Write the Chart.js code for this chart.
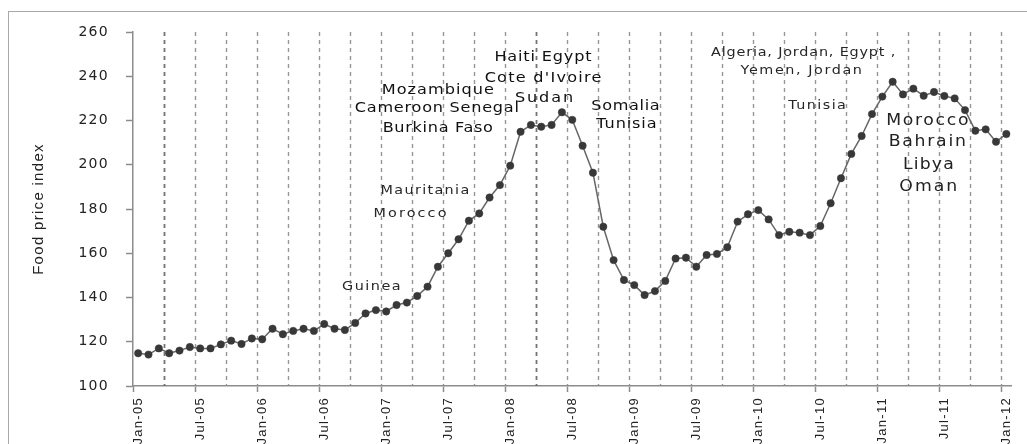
<!DOCTYPE html>
<html><head><meta charset="utf-8">
<script src="https://cdn.jsdelivr.net/npm/chart.js@4.4.0/dist/chart.umd.min.js"></script>
<style>html,body{margin:0;padding:0;background:#fff;overflow:hidden}#wrap{position:relative;width:1027px;height:444px}</style>
</head><body><div id="wrap"><canvas id="c" width="1027" height="444"></canvas></div>
<script>
const categories = [
 'Jan-05','Feb-05','Mar-05','Apr-05','May-05','Jun-05','Jul-05','Aug-05','Sep-05','Oct-05','Nov-05','Dec-05',
 'Jan-06','Feb-06','Mar-06','Apr-06','May-06','Jun-06','Jul-06','Aug-06','Sep-06','Oct-06','Nov-06','Dec-06',
 'Jan-07','Feb-07','Mar-07','Apr-07','May-07','Jun-07','Jul-07','Aug-07','Sep-07','Oct-07','Nov-07','Dec-07',
 'Jan-08','Feb-08','Mar-08','Apr-08','May-08','Jun-08','Jul-08','Aug-08','Sep-08','Oct-08','Nov-08','Dec-08',
 'Jan-09','Feb-09','Mar-09','Apr-09','May-09','Jun-09','Jul-09','Aug-09','Sep-09','Oct-09','Nov-09','Dec-09',
 'Jan-10','Feb-10','Mar-10','Apr-10','May-10','Jun-10','Jul-10','Aug-10','Sep-10','Oct-10','Nov-10','Dec-10',
 'Jan-11','Feb-11','Mar-11','Apr-11','May-11','Jun-11','Jul-11','Aug-11','Sep-11','Oct-11','Nov-11','Dec-11',
 'Jan-12'];
const foodPriceIndex = [
 114.8,114.2,117.0,114.8,116.0,117.6,117.0,117.0,118.8,120.5,119.0,121.5,
 121.1,125.9,123.4,124.9,125.9,124.9,128.0,125.9,125.3,128.5,132.8,134.3,
 133.7,136.6,137.7,140.7,144.9,153.9,160.0,166.3,174.7,178.0,185.2,190.8,
 199.6,214.9,218.0,217.2,218.0,223.7,220.3,208.6,196.4,172.0,156.9,147.9,
 145.6,141.1,142.9,147.5,157.6,158.0,153.9,159.2,159.7,162.7,174.3,177.6,
 179.5,175.3,168.2,169.7,169.3,168.2,172.3,182.6,193.9,204.9,213.0,222.9,
 230.8,237.5,231.8,234.4,231.2,232.9,231.1,230.0,224.7,215.4,216.0,210.4,
 213.9];
const tickLabels = ['Jan-05','Jul-05','Jan-06','Jul-06','Jan-07','Jul-07','Jan-08','Jul-08','Jan-09','Jul-09','Jan-10','Jul-10','Jan-11','Jul-11','Jan-12'];
const quarterStarts = ['Apr','Jul','Oct','Jan'];
const emphasised = ['Apr-05','Apr-08'];
const yMin = 100, yMax = 260, yStep = 20;
const yTitle = 'Food price index';
// annotation labels: x = category index, y = index value
const annotations = [
 {text:'Haiti Egypt', x:39.17, y:248.7, g:1, w:98},
 {text:"Cote d'Ivoire", x:39.17, y:239.2, g:1, w:118},
 {text:'Sudan', x:39.27, y:230.2, g:1, w:60},
 {text:'Mozambique', x:28.99, y:233.8, g:1, w:113},
 {text:'Cameroon Senegal', x:28.9, y:225.6, g:1, w:165},
 {text:'Burkina Faso', x:28.99, y:216.6, g:1, w:111},
 {text:'Somalia', x:47.15, y:226.6, g:1, w:69},
 {text:'Tunisia', x:47.24, y:218.4, g:1, w:61},
 {text:'Mauritania', x:27.74, y:188.3, g:2, w:90},
 {text:'Morocco', x:26.3, y:177.7, g:2, w:75},
 {text:'Guinea', x:22.56, y:144.9, g:2, w:60},
 {text:'Algeria, Jordan, Egypt ,', x:64.34, y:250.5, g:2, w:185},
 {text:'Yemen, Jordan', x:64.15, y:242.5, g:2, w:123},
 {text:'Tunisia', x:65.69, y:226.6, g:2, w:59},
 {text:'Morocco', x:76.35, y:219.9, g:3, w:84},
 {text:'Bahrain', x:76.35, y:210.1, g:3, w:79},
 {text:'Libya', x:76.45, y:199.9, g:3, w:52},
 {text:'Oman', x:76.45, y:190.1, g:3, w:60}
];
const groupStyle = {
 1:{font:'14px "DejaVu Sans"', color:'#111111'},
 2:{font:'12.5px "DejaVu Sans"', color:'#262626'},
 3:{font:'15px "DejaVu Sans"', color:'#222222'}
};
const narrow = "'Liberation Sans Narrow', 'Liberation Sans', Arial, sans-serif";

const framePlugin = {
 id:'frame',
 beforeDraw(chart){
  const ctx = chart.ctx; ctx.save();
  ctx.strokeStyle = '#a8a8a8'; ctx.lineWidth = 1;
  ctx.strokeRect(8.5, 11.5, 1300, 700);
  ctx.restore();
  if ('letterSpacing' in ctx) ctx.letterSpacing = '1.3px';
 },
 beforeDatasetsDraw(chart){
  const ctx = chart.ctx;
  if ('letterSpacing' in ctx) ctx.letterSpacing = '0px';
  const xs = chart.scales.x, a = chart.chartArea;
  ctx.save();
  categories.forEach((c, i) => {
   if (i === 0 || !quarterStarts.includes(c.slice(0,3))) return;
   const strong = emphasised.includes(c);
   const x = Math.round(xs.getPixelForValue(i - 0.5)) + 0.5;
   ctx.beginPath();
   ctx.setLineDash([4,4]);
   ctx.lineWidth = strong ? 1.8 : 1.4;
   ctx.strokeStyle = strong ? 'rgba(100,100,100,0.9)' : 'rgba(140,140,140,0.9)';
   ctx.moveTo(x, a.top); ctx.lineTo(x, a.bottom);
   ctx.stroke();
  });
  ctx.restore();
 }
};
const annotPlugin = {
 id:'annot',
 afterDatasetsDraw(chart){
  const ctx = chart.ctx, xs = chart.scales.x, ys = chart.scales.y;
  annotations.forEach(a => {
   const st = groupStyle[a.g];
   ctx.save();
   ctx.font = st.font; ctx.fillStyle = st.color;
   ctx.textAlign = 'center'; ctx.textBaseline = 'middle';
   if ('letterSpacing' in ctx) ctx.letterSpacing = '0px';
   const m = ctx.measureText(a.text).width;
   const sx = Math.min(a.w / m, 1.15);
   let ls = Math.max(0, (a.w - m * sx) / a.text.length) / sx;
   if (!('letterSpacing' in ctx)) ls = 0; else ctx.letterSpacing = ls.toFixed(2) + 'px';
   ctx.translate(xs.getPixelForValue(a.x), ys.getPixelForValue(a.y));
   ctx.scale(sx, 1);
   ctx.fillText(a.text, ls / 2, 0);
   ctx.restore();
  });
 }
};

new Chart(document.getElementById('c'), {
 type:'line',
 data:{ labels:categories, datasets:[{
   data:foodPriceIndex, borderColor:'#666666', borderWidth:1.5,
   pointRadius:3.7, pointBackgroundColor:'#383838', pointBorderColor:'#383838', pointBorderWidth:0.5,
   tension:0, fill:false }]},
 options:{
  responsive:false, animation:false, devicePixelRatio:1,
  layout:{ padding:{left:8, top:32, right:9, bottom:0} },
  plugins:{ legend:{display:false}, tooltip:{enabled:false} },
  scales:{
   x:{ type:'category', offset:true,
     grid:{ offset:true, drawOnChartArea:false, drawTicks:true, tickLength:6,
       tickColor: c => (c.index !== undefined && c.index % 6 === 0) ? '#8c8c8c' : 'rgba(0,0,0,0)',
       tickWidth:1.5 },
     border:{ color:'#8c8c8c', width:1.5 },
     ticks:{ autoSkip:false, maxRotation:90, minRotation:90, padding:5,
       font:{family:narrow, size:13}, color:'#222',
       callback:(v,i) => tickLabels.includes(categories[i]) ? categories[i] : '' },
     afterFit: s => { s.height = 58; }
   },
   y:{ min:yMin, max:yMax,
     ticks:{ stepSize:yStep, font:{family:'"DejaVu Sans"', size:14}, color:'#222', padding:17 },
     grid:{ drawOnChartArea:false, drawTicks:true, tickLength:7, tickColor:'#8c8c8c', tickWidth:1.5 },
     border:{ color:'#8c8c8c', width:1.5 },
     title:{ display:true, text:yTitle, font:{family:narrow, size:15}, color:'#222', padding:{top:22, bottom:0} },
     afterFit: s => { s.width = 125; }
   }
  }
 },
 plugins:[framePlugin, annotPlugin]
});
</script></body></html>
